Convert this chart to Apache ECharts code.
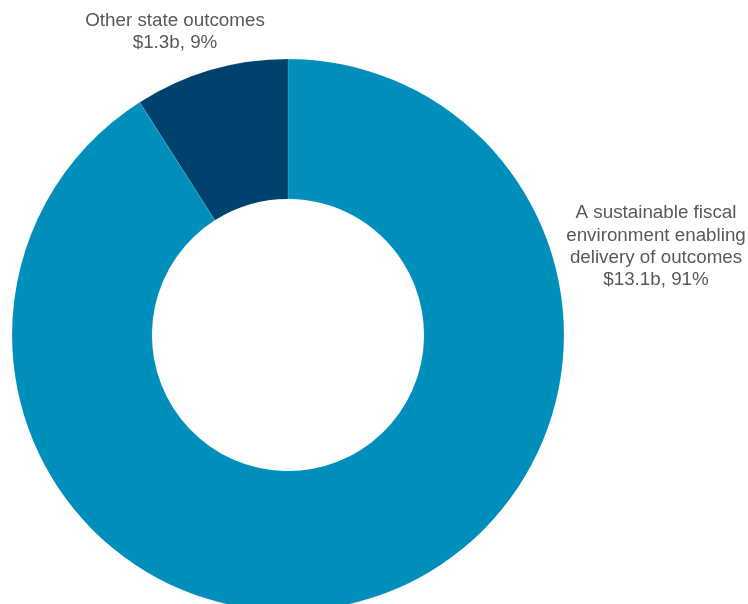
<!DOCTYPE html>
<html><head><meta charset="utf-8">
<script src="https://cdn.jsdelivr.net/npm/echarts@6/dist/echarts.min.js"></script>
<style>html,body{margin:0;padding:0;background:#fff}#c{width:748px;height:604px}</style>
</head><body><div id="c"></div>
<script>
const categories = ["A sustainable fiscal\nenvironment enabling\ndelivery of outcomes", "Other state outcomes"];
const values = [13.1, 1.3];
const percents = [91, 9];
const colors = ["#008FBB", "#00426E"];

const chart = echarts.init(document.getElementById('c'), null, {renderer: 'canvas'});
const lbl = i => categories[i] + "\n$" + values[i] + "b, " + percents[i] + "%";
const textStyle = {fill: '#595959', fontFamily: 'Liberation Sans, Arial, sans-serif', fontSize: 18.8, lineHeight: 22.3, align: 'center', verticalAlign: 'middle'};
chart.setOption({
  animation: false,
  series: [{
    type: 'pie',
    center: [288, 335],
    radius: [136, 276],
    startAngle: 90,
    clockwise: true,
    label: {show: false},
    labelLine: {show: false},
    itemStyle: {borderColor: 'rgba(255,255,255,0.25)', borderWidth: 0.5},
    emphasis: {disabled: true},
    data: categories.map((c, i) => ({name: c, value: values[i], itemStyle: {color: colors[i]}}))
  }],
  graphic: [
    {type: 'text', x: 175, y: 31.5, style: Object.assign({text: lbl(1)}, textStyle)},
    {type: 'text', x: 656, y: 246.5, style: Object.assign({text: lbl(0)}, textStyle)}
  ]
});
</script></body></html>
